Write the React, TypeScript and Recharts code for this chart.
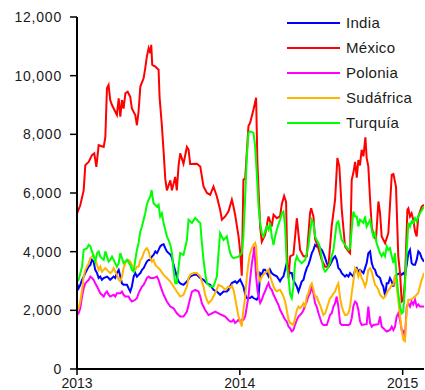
import { LineChart, Line, XAxis, YAxis, Legend } from 'recharts';

// [years since 1 Jan 2013, value]
const india: [number, number][] = [
  [0, 2920], [0.010, 2750], [0.020, 2870], [0.031, 3040], [0.041, 3150], [0.051, 3270], [0.061, 3380], [0.072, 3490], [0.082, 3550], [0.092, 3720],
  [0.102, 3660], [0.112, 3380], [0.123, 3270], [0.133, 3100], [0.143, 3150], [0.153, 3040], [0.164, 3100], [0.184, 3150], [0.194, 3100], [0.204, 3040],
  [0.225, 3150], [0.235, 3100], [0.245, 3270], [0.256, 3380], [0.266, 3150], [0.276, 2920], [0.286, 2870], [0.307, 2870], [0.317, 2750], [0.327, 2640],
  [0.337, 2810], [0.348, 3150], [0.358, 3270], [0.368, 3150], [0.378, 3210], [0.389, 3270], [0.399, 3380], [0.409, 3440], [0.419, 3550], [0.429, 3660],
  [0.440, 3720], [0.450, 3720], [0.460, 3830], [0.470, 3890], [0.481, 4010], [0.491, 3950], [0.501, 4060], [0.511, 4180], [0.521, 4230], [0.532, 4250],
  [0.542, 4120], [0.552, 4010], [0.573, 3900], [0.583, 3800], [0.593, 3550], [0.613, 3150], [0.624, 2980], [0.634, 2920], [0.654, 2870], [0.675, 2980],
  [0.695, 3150], [0.716, 3210], [0.736, 3210], [0.757, 3100], [0.777, 3040], [0.798, 2920], [0.818, 2870], [0.838, 2700], [0.859, 2640], [0.879, 2530],
  [0.900, 2640], [0.920, 2640], [0.930, 2700], [0.951, 2930], [0.971, 2990], [0.982, 2930], [0.992, 2990], [1.002, 3050], [1.022, 2810], [1.033, 2530],
  [1.043, 2420], [1.063, 2420], [1.074, 2470], [1.084, 2420], [1.104, 2360], [1.115, 2470], [1.125, 3270], [1.135, 3220], [1.145, 3380], [1.155, 3380],
  [1.176, 3160], [1.186, 3380], [1.196, 3270], [1.207, 3220], [1.227, 3160], [1.247, 2990], [1.258, 3100], [1.268, 3160], [1.278, 3380], [1.288, 3610],
  [1.299, 3380], [1.309, 3270], [1.319, 3270], [1.329, 3040], [1.339, 2920], [1.350, 2810], [1.360, 2640], [1.370, 2810], [1.380, 2980], [1.391, 3040],
  [1.401, 3270], [1.411, 3440], [1.421, 3550], [1.431, 3720], [1.442, 3950], [1.452, 4060], [1.462, 4230], [1.472, 4180], [1.483, 4230], [1.493, 4120],
  [1.503, 4060], [1.513, 3950], [1.524, 3780], [1.534, 3610], [1.544, 3490], [1.554, 3550], [1.564, 3660], [1.575, 3780], [1.585, 3840], [1.595, 3720],
  [1.605, 3440], [1.616, 3380], [1.626, 3270], [1.636, 3210], [1.646, 3150], [1.656, 3210], [1.667, 3150], [1.677, 3270], [1.687, 3210], [1.697, 3150],
  [1.708, 3380], [1.718, 3440], [1.728, 3320], [1.738, 3380], [1.759, 3270], [1.769, 3440], [1.779, 3610], [1.789, 3950], [1.800, 4010], [1.810, 3610],
  [1.820, 3440], [1.830, 3380], [1.840, 3210], [1.851, 3150], [1.861, 3100], [1.871, 2920], [1.881, 2810], [1.892, 2500], [1.902, 2920], [1.912, 2920],
  [1.922, 3100], [1.933, 2980], [1.943, 2810], [1.953, 3150], [1.963, 3210], [1.984, 3270], [1.994, 3210], [2.004, 3270], [2.014, 3210], [2.025, 3550],
  [2.035, 3950], [2.045, 4060], [2.055, 3610], [2.065, 3550], [2.076, 3550], [2.086, 3720], [2.096, 4010], [2.106, 3950], [2.117, 3780], [2.131, 3660],
];

const mexico: [number, number][] = [
  [0, 5300], [0.020, 5580], [0.041, 6090], [0.051, 6950], [0.072, 7060], [0.092, 7290], [0.106, 7350], [0.119, 6890], [0.133, 7630], [0.164, 7570],
  [0.174, 7900], [0.184, 9570], [0.194, 9680], [0.204, 9170], [0.215, 9000], [0.235, 8770], [0.245, 8660], [0.256, 9230], [0.266, 8600], [0.276, 9170],
  [0.286, 8880], [0.297, 9400], [0.311, 9450], [0.327, 9280], [0.337, 8880], [0.358, 8660], [0.368, 8310], [0.378, 8770], [0.389, 9630], [0.409, 9910],
  [0.419, 10250], [0.429, 10650], [0.440, 10940], [0.450, 10770], [0.456, 11050], [0.462, 10370], [0.481, 10310], [0.501, 10200], [0.507, 9280], [0.521, 8310],
  [0.532, 7400], [0.542, 6490], [0.552, 6090], [0.573, 6430], [0.583, 6090], [0.603, 6550], [0.613, 6090], [0.624, 6950], [0.634, 7350], [0.654, 7000],
  [0.675, 7570], [0.685, 7480], [0.695, 6990], [0.736, 7000], [0.757, 6900], [0.767, 6560], [0.777, 6220], [0.798, 6000], [0.818, 5940], [0.838, 6220],
  [0.859, 5880], [0.879, 5430], [0.890, 5090], [0.910, 5200], [0.930, 5370], [0.951, 5770], [0.961, 5540], [0.971, 5260], [0.992, 4520], [1.002, 4010],
  [1.012, 3180], [1.022, 6450], [1.033, 6500], [1.053, 8280], [1.063, 8390], [1.084, 8850], [1.100, 9250], [1.108, 7000], [1.125, 4830], [1.135, 4340],
  [1.155, 4570], [1.176, 5200], [1.196, 4860], [1.207, 5260], [1.227, 5140], [1.247, 5200], [1.258, 5630], [1.272, 5900], [1.284, 5700], [1.292, 3530],
  [1.299, 3100], [1.309, 3840], [1.329, 3900], [1.350, 5140], [1.370, 4060], [1.391, 3840], [1.411, 3840], [1.431, 5310], [1.438, 5480], [1.452, 5200],
  [1.462, 4440], [1.483, 4100], [1.503, 3720], [1.524, 3490], [1.544, 3490], [1.564, 4860], [1.585, 5770], [1.599, 7190], [1.611, 6910], [1.626, 5430],
  [1.646, 4180], [1.667, 4010], [1.677, 3950], [1.687, 6450], [1.697, 6680], [1.708, 7060], [1.718, 6520], [1.728, 7120], [1.738, 6940], [1.748, 7470],
  [1.759, 7250], [1.771, 7900], [1.779, 7190], [1.789, 6910], [1.800, 5770], [1.810, 4860], [1.820, 4580], [1.836, 4410], [1.851, 5710], [1.861, 5320],
  [1.871, 4520], [1.892, 4290], [1.912, 4630], [1.933, 6620], [1.943, 6650], [1.959, 6220], [1.973, 3840], [1.984, 3260], [1.994, 2300], [2.004, 2350],
  [2.014, 3000], [2.029, 5430], [2.035, 5480], [2.045, 5200], [2.055, 5310], [2.065, 5090], [2.076, 4690], [2.086, 4520], [2.096, 5200], [2.117, 5540],
  [2.131, 5600],
];

const polonia: [number, number][] = [
  [0, 1840], [0.010, 1900], [0.020, 2070], [0.031, 2470], [0.041, 2750], [0.051, 2920], [0.061, 2980], [0.072, 3040], [0.082, 3150], [0.092, 3100],
  [0.102, 3040], [0.112, 2920], [0.123, 2810], [0.133, 2700], [0.143, 2580], [0.153, 2530], [0.164, 2470], [0.174, 2580], [0.184, 2640], [0.194, 2530],
  [0.204, 2470], [0.225, 2530], [0.235, 2470], [0.245, 2580], [0.266, 2580], [0.276, 2640], [0.286, 2530], [0.297, 2470], [0.317, 2470], [0.327, 2360],
  [0.337, 2300], [0.358, 2360], [0.368, 2410], [0.378, 2580], [0.389, 2700], [0.399, 2810], [0.409, 2870], [0.419, 2980], [0.429, 3100], [0.440, 3150],
  [0.450, 3100], [0.470, 3100], [0.491, 3150], [0.501, 3040], [0.511, 2850], [0.532, 2530], [0.552, 2300], [0.573, 2130], [0.593, 2070], [0.613, 1900],
  [0.634, 1790], [0.654, 1790], [0.675, 1960], [0.685, 2180], [0.695, 2410], [0.706, 2640], [0.726, 2700], [0.746, 2640], [0.757, 2470], [0.767, 2240],
  [0.787, 2010], [0.808, 1840], [0.828, 1900], [0.849, 1960], [0.869, 1900], [0.890, 1840], [0.910, 1790], [0.930, 1670], [0.941, 1620], [0.951, 1620],
  [0.961, 1680], [0.971, 1570], [0.982, 1620], [0.992, 1680], [1.002, 1620], [1.012, 1680], [1.022, 1680], [1.033, 1790], [1.043, 2130], [1.053, 2470],
  [1.063, 3050], [1.074, 3610], [1.084, 3950], [1.088, 4180], [1.094, 3720], [1.100, 3160], [1.108, 2700], [1.115, 2470], [1.125, 2250], [1.135, 2360],
  [1.145, 2530], [1.155, 2650], [1.166, 2810], [1.176, 2930], [1.186, 2760], [1.196, 2700], [1.207, 2530], [1.217, 2420], [1.227, 2300], [1.237, 2190],
  [1.247, 2020], [1.258, 1900], [1.268, 1790], [1.278, 1680], [1.288, 1620], [1.299, 1450], [1.309, 1390], [1.319, 1280], [1.329, 1330], [1.339, 1500],
  [1.350, 1670], [1.360, 1790], [1.370, 1840], [1.380, 1900], [1.391, 2010], [1.401, 2180], [1.411, 2300], [1.421, 2470], [1.431, 2580], [1.442, 2800],
  [1.452, 2580], [1.462, 2240], [1.472, 2130], [1.483, 1900], [1.493, 1730], [1.503, 1560], [1.513, 1500], [1.534, 1500], [1.544, 1670], [1.554, 1840],
  [1.564, 1900], [1.575, 2130], [1.585, 2240], [1.595, 2470], [1.605, 2130], [1.616, 1560], [1.626, 1500], [1.646, 1500], [1.667, 1500], [1.677, 1530],
  [1.687, 1730], [1.697, 2130], [1.708, 2300], [1.718, 2240], [1.728, 2010], [1.738, 1630], [1.748, 1500], [1.779, 1530], [1.789, 2130], [1.800, 1560],
  [1.810, 1440], [1.820, 1500], [1.851, 1530], [1.861, 1790], [1.871, 1440], [1.881, 1390], [1.892, 1330], [1.902, 1280], [1.922, 1330], [1.933, 1440],
  [1.943, 1330], [1.953, 1440], [1.963, 1790], [1.973, 1900], [1.984, 1670], [1.994, 1330], [2.004, 1300], [2.014, 1100], [2.025, 2130], [2.035, 2240],
  [2.045, 2130], [2.055, 2300], [2.065, 2200], [2.076, 2360], [2.086, 2130], [2.096, 2200], [2.106, 2130], [2.131, 2130],
];

const sudafrica: [number, number][] = [
  [0, 1960], [0.010, 2070], [0.020, 2300], [0.031, 2700], [0.041, 3150], [0.051, 3380], [0.061, 3490], [0.072, 3610], [0.082, 3780], [0.092, 3830],
  [0.102, 3890], [0.112, 3720], [0.123, 3550], [0.133, 3380], [0.143, 3490], [0.153, 3320], [0.164, 3380], [0.174, 3440], [0.184, 3380], [0.194, 3320],
  [0.204, 3270], [0.215, 3320], [0.225, 3440], [0.245, 3210], [0.256, 3040], [0.266, 2980], [0.276, 3150], [0.286, 3440], [0.297, 3610], [0.307, 3720],
  [0.317, 3720], [0.327, 3660], [0.337, 3550], [0.348, 3380], [0.358, 3380], [0.368, 3490], [0.378, 3490], [0.389, 3720], [0.399, 3780], [0.409, 3950],
  [0.419, 4060], [0.429, 4120], [0.440, 4010], [0.450, 3780], [0.460, 3660], [0.470, 3720], [0.481, 3550], [0.491, 3490], [0.511, 3380], [0.532, 3210],
  [0.552, 3100], [0.573, 2980], [0.593, 2810], [0.613, 2640], [0.634, 2470], [0.654, 2530], [0.675, 2810], [0.685, 3100], [0.695, 3210], [0.716, 3270],
  [0.736, 3270], [0.757, 3150], [0.767, 2980], [0.777, 2810], [0.787, 2530], [0.798, 2360], [0.808, 2240], [0.828, 2360], [0.849, 2590], [0.869, 2870],
  [0.890, 2810], [0.910, 2700], [0.930, 2810], [0.941, 2760], [0.951, 2850], [0.961, 2700], [0.971, 2420], [0.982, 2080], [0.992, 1790], [1.002, 1620],
  [1.012, 1450], [1.022, 2020], [1.033, 2470], [1.043, 3160], [1.053, 3610], [1.063, 3950], [1.074, 4120], [1.084, 4230], [1.094, 4300], [1.100, 4180],
  [1.108, 3380], [1.115, 3160], [1.125, 2990], [1.135, 3160], [1.155, 3270], [1.166, 3330], [1.176, 3380], [1.186, 3160], [1.196, 2990], [1.207, 2810],
  [1.217, 2700], [1.227, 2650], [1.247, 2700], [1.258, 2590], [1.268, 2470], [1.278, 2300], [1.288, 2020], [1.299, 1680], [1.309, 1570], [1.329, 1500],
  [1.339, 1730], [1.350, 2010], [1.360, 2130], [1.370, 2070], [1.380, 2130], [1.391, 2240], [1.401, 2130], [1.411, 2470], [1.421, 2580], [1.431, 2810],
  [1.442, 2920], [1.452, 2700], [1.462, 2470], [1.472, 2470], [1.483, 2300], [1.493, 2180], [1.503, 2010], [1.513, 1840], [1.524, 1900], [1.534, 2070],
  [1.544, 2240], [1.554, 2410], [1.564, 2470], [1.575, 2580], [1.585, 2640], [1.595, 2810], [1.605, 2920], [1.616, 2410], [1.626, 2130], [1.636, 1960],
  [1.646, 1840], [1.656, 1840], [1.667, 1900], [1.677, 2130], [1.687, 2580], [1.697, 2980], [1.708, 3440], [1.718, 3380], [1.728, 3150], [1.738, 3320],
  [1.748, 3100], [1.759, 2980], [1.769, 2810], [1.779, 2980], [1.789, 3380], [1.800, 3440], [1.810, 3320], [1.820, 3100], [1.830, 2870], [1.840, 2810],
  [1.851, 2700], [1.861, 2530], [1.871, 2470], [1.881, 2410], [1.892, 2470], [1.902, 2580], [1.912, 2700], [1.922, 2750], [1.933, 2870], [1.943, 2870],
  [1.953, 3210], [1.963, 2810], [1.973, 2350], [1.984, 1790], [1.994, 1330], [2.004, 1000], [2.014, 950], [2.025, 2020], [2.035, 2360], [2.045, 2350],
  [2.065, 2420], [2.086, 2530], [2.096, 2590], [2.106, 2820], [2.117, 3040], [2.131, 3270],
];

const turquia: [number, number][] = [
  [0, 2980], [0.010, 3040], [0.031, 3490], [0.041, 4060], [0.061, 4120], [0.072, 4230], [0.082, 4180], [0.102, 3830], [0.112, 3660], [0.123, 3950],
  [0.133, 4010], [0.143, 3830], [0.164, 3720], [0.174, 4010], [0.184, 3830], [0.194, 3660], [0.204, 3720], [0.215, 3830], [0.225, 3720], [0.245, 3490],
  [0.256, 3610], [0.266, 3950], [0.276, 3780], [0.286, 3610], [0.307, 3720], [0.327, 3550], [0.337, 3380], [0.348, 3320], [0.358, 3720], [0.368, 4060],
  [0.378, 4290], [0.389, 4690], [0.399, 4860], [0.409, 5090], [0.419, 5310], [0.429, 5600], [0.440, 5770], [0.450, 5880], [0.458, 6100], [0.470, 5650],
  [0.491, 5540], [0.501, 5600], [0.511, 5200], [0.521, 5310], [0.532, 4980], [0.542, 4750], [0.552, 4520], [0.562, 4400], [0.573, 4230], [0.583, 3950],
  [0.593, 3380], [0.603, 2920], [0.613, 2920], [0.624, 3490], [0.634, 3950], [0.654, 3890], [0.675, 4400], [0.685, 5090], [0.706, 4980], [0.726, 5150],
  [0.746, 5030], [0.757, 4980], [0.767, 4290], [0.777, 3720], [0.787, 3270], [0.798, 2920], [0.818, 2810], [0.838, 2810], [0.859, 3150], [0.869, 3950],
  [0.879, 4630], [0.900, 4400], [0.920, 4520], [0.930, 4230], [0.941, 3950], [0.951, 3830], [0.961, 3780], [0.992, 3830], [1.002, 3890], [1.012, 3950],
  [1.022, 4520], [1.033, 5890], [1.043, 7250], [1.053, 8050], [1.063, 8100], [1.084, 8050], [1.094, 7590], [1.104, 6680], [1.115, 5540], [1.125, 4980],
  [1.135, 4630], [1.145, 4520], [1.155, 4690], [1.166, 4860], [1.176, 4750], [1.186, 4980], [1.196, 4520], [1.207, 4230], [1.217, 4520], [1.227, 4750],
  [1.237, 4920], [1.247, 5090], [1.258, 5310], [1.268, 5370], [1.278, 4860], [1.288, 3610], [1.299, 3100], [1.309, 2550], [1.319, 2420], [1.329, 2810],
  [1.339, 3610], [1.350, 3840], [1.360, 3720], [1.380, 3610], [1.401, 3720], [1.411, 3950], [1.421, 4180], [1.431, 4680], [1.442, 5090], [1.452, 4980],
  [1.462, 4520], [1.472, 4400], [1.483, 4290], [1.493, 4120], [1.503, 3780], [1.513, 3440], [1.524, 3320], [1.534, 3380], [1.554, 3610], [1.564, 3840],
  [1.575, 4060], [1.585, 4520], [1.595, 4980], [1.605, 5030], [1.616, 4680], [1.626, 4400], [1.646, 4230], [1.667, 4060], [1.677, 4120], [1.687, 4750],
  [1.697, 5370], [1.708, 5200], [1.718, 5200], [1.728, 4860], [1.738, 5090], [1.759, 4980], [1.769, 5200], [1.779, 4860], [1.800, 5090], [1.810, 4750],
  [1.820, 4520], [1.830, 4630], [1.840, 4290], [1.861, 3950], [1.871, 3840], [1.881, 3950], [1.892, 3840], [1.902, 4180], [1.912, 4060], [1.922, 4120],
  [1.933, 3840], [1.943, 3610], [1.953, 3950], [1.963, 3130], [1.973, 2580], [1.984, 2130], [1.994, 1900], [2.004, 1950], [2.014, 2810], [2.025, 4060],
  [2.035, 4980], [2.045, 4860], [2.055, 5030], [2.065, 4980], [2.076, 5140], [2.086, 5030], [2.096, 5200], [2.106, 5310], [2.131, 5540],
];

const yearTicks = [2013, 2014, 2015];
const valueTicks = [0, 2000, 4000, 6000, 8000, 10000, 12000];

const series = [
  { name: 'India', color: '#0000ff', points: india },
  { name: 'México', color: '#ff0000', points: mexico },
  { name: 'Polonia', color: '#ff00ff', points: polonia },
  { name: 'Sudáfrica', color: '#ffb400', points: sudafrica },
  { name: 'Turquía', color: '#00ff00', points: turquia },
];

const font = '"Liberation Sans", Arial, sans-serif';

function LegendBox() {
  return (
    <div style={{ fontFamily: font, fontSize: 15, color: '#1a1a1a' }}>
      {series.map(s => (
        <div key={s.name} style={{ display: 'flex', alignItems: 'center', height: 25 }}>
          <div style={{ width: 53, height: 2, background: s.color, marginRight: 6 }} />
          <span style={{ letterSpacing: 0.3 }}>{s.name}</span>
        </div>
      ))}
    </div>
  );
}

export default function App() {
  return (
    <div style={{ position: 'absolute', left: 0, top: 0, width: 425, height: 390, background: '#fff' }}>
      <LineChart width={425} height={390} margin={{ top: 17, right: 1, bottom: 0, left: 0 }}>
        <XAxis
          type="number"
          dataKey="x"
          domain={[2013, 2015.131]}
          ticks={yearTicks}
          allowDataOverflow
          height={21}
          tickSize={6}
          tickMargin={3}
          axisLine={{ stroke: '#000', strokeWidth: 2 }}
          tickLine={{ stroke: '#000', strokeWidth: 1.5 }}
          tick={{ fill: '#1a1a1a', fontSize: 14, fontFamily: font }}
        />
        <YAxis
          type="number"
          domain={[0, 12000]}
          ticks={valueTicks}
          width={77}
          tickSize={7}
          tickMargin={8}
          tickFormatter={(v: number) => v.toLocaleString('en-US')}
          axisLine={{ stroke: '#000', strokeWidth: 2 }}
          tickLine={{ stroke: '#000', strokeWidth: 1.5 }}
          tick={{ fill: '#1a1a1a', fontSize: 14, fontFamily: font, letterSpacing: 0.8 }}
        />
        <Legend
          layout="horizontal"
          verticalAlign="middle"
          align="center"
          content={() => <LegendBox />}
          wrapperStyle={{ top: 10, left: 287, width: 130 }}
        />
        {series.map(s => (
          <Line
            key={s.name}
            name={s.name}
            data={s.points.map(([t, v]) => ({ x: 2013 + t, v }))}
            dataKey="v"
            stroke={s.color}
            strokeWidth={2}
            dot={false}
            activeDot={false}
            isAnimationActive={false}
          />
        ))}
      </LineChart>
    </div>
  );
}
